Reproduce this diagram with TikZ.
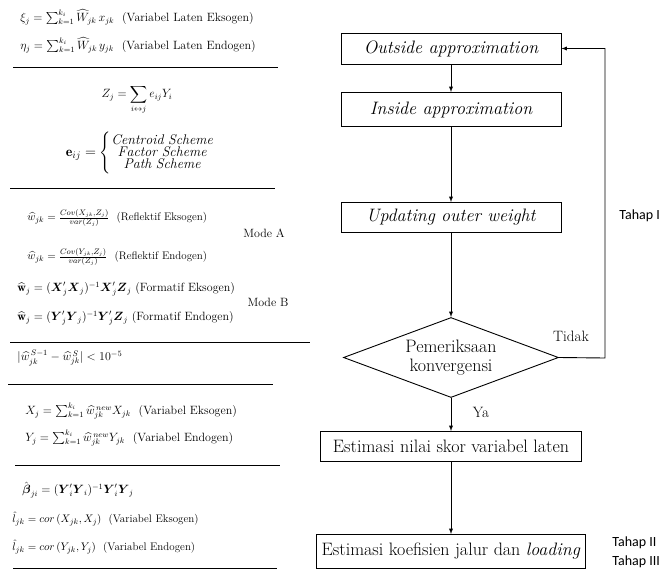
\documentclass[tikz,border=0pt]{standalone}
\usepackage{amsmath, amssymb}
\usepackage{fontspec}
\newfontfamily\tahapfont{Carlito}
\usetikzlibrary{positioning, shapes.geometric}

\tikzset{
  process/.style={draw, line width=0.9pt, minimum width=220pt, minimum height=31pt,
    inner sep=0pt, font=\fontsize{18}{20}\selectfont},
  decision/.style={draw, diamond, line width=0.9pt, aspect=2.69, minimum width=215pt,
    minimum height=80pt, inner sep=0pt, align=center, font=\fontsize{18}{19}\selectfont},
  eq/.style={anchor=west, inner sep=0pt, font=\fontsize{12}{14}\selectfont},
  smalleq/.style={eq, font=\fontsize{11}{13}\selectfont},
  tahap/.style={anchor=west, inner sep=0pt, font=\tahapfont\fontsize{14}{16}\selectfont},
  rule/.style={line width=0.9pt}
}

\begin{document}
\begin{tikzpicture}[x=1pt, y=-1pt, >=latex, node distance=60pt, on grid, line width=0.9pt]
   \useasboundingbox (0,0) rectangle (670,571);

   % Flowchart
   \node[process] (outside) at (451,48.5) {\itshape Outside approximation};
   \node[process, minimum height=34pt] (inside) [below=61pt of outside] {\itshape Inside approximation};
   \node[process, minimum height=30pt] (update) [below=108pt of inside] {\itshape Updating outer weight};
   \node[decision] (check) [below=140pt of update] {Pemeriksaan\\konvergensi};
   \node[process, minimum width=261pt, minimum height=30pt] (score) [below=89pt of check] {Estimasi nilai skor variabel laten};
   \node[process, minimum width=269pt, minimum height=34pt] (coef) [below=105pt of score] {Estimasi koefisien jalur dan \textit{loading}};
   \coordinate (back) at (605,358);

   \path[->]
        (outside) edge (inside)
        (inside) edge (update)
        (update) edge (check)
        (check) edge (score)
        (score) edge (coef);
   % Back to the start
   \draw[->] (check.east) -- (back) |- (outside.east);

   \node[font=\fontsize{15}{17}\selectfont] (tidak) at (571,336) {Tidak};
   \node[font=\fontsize{15}{17}\selectfont] (ya) at (481,412) {Ya};
   \node[tahap] (tahap1) at (619,216) {Tahap I};
   \node[tahap] (tahap2) at (612,543) {Tahap II};
   \node[tahap] (tahap3) at (612,562) {Tahap III};

   % Formulas
   \node[eq] (xi) at (20,17) {$\xi_j = \sum_{k=1}^{k_i} \widehat{W}_{jk}\, x_{jk}$\ \ (Variabel Laten Eksogen)};
   \node[eq] (eta) at (20,45) {$\eta_j = \sum_{k=1}^{k_i} \widehat{W}_{jk}\, y_{jk}$\ \ (Variabel Laten Endogen)};
   \draw[rule] (13,67) -- (278,67);

   \node[eq, anchor=center] (zsum) at (137,100) {$\displaystyle Z_j = \sum_{i\leftrightarrow j} e_{ij} Y_i$};
   \node[eq, anchor=center, font=\fontsize{14}{16}\selectfont] (escheme) at (140,153)
     {$\mathbf{e}_{ij} = \left\{\begin{array}{@{}c@{}}\mathit{Centroid\ Scheme}\\[-4pt] \mathit{Factor\ Scheme}\\[-4pt] \mathit{Path\ Scheme}\end{array}\right.$};
   \draw[rule] (10,188) -- (275,188);

   \node[smalleq] (wrefx) at (27,218) {$\widehat{w}_{jk} = \frac{Cov(X_{jk},Z_j)}{var(Z_j)}$\ \ (Reflektif Eksogen)};
   \node[smalleq] (wrefy) at (27,257) {$\widehat{w}_{jk} = \frac{Cov(Y_{jk},Z_j)}{var(Z_j)}$\ \ (Reflektif Endogen)};
   \node[eq, anchor=center] (modea) at (264,233) {Mode A};
   \node[eq] (wforx) at (17,289) {$\widehat{\mathbf{w}}_j = (\boldsymbol{X}_j'\boldsymbol{X}_j)^{-1}\boldsymbol{X}_j'\boldsymbol{Z}_j$ (Formatif Eksogen)};
   \node[eq] (wfory) at (17,318) {$\widehat{\mathbf{w}}_j = (\boldsymbol{Y}_j'\boldsymbol{Y}_j)^{-1}\boldsymbol{Y}_j'\boldsymbol{Z}_j$ (Formatif Endogen)};
   \node[eq, anchor=center] (modeb) at (268,302) {Mode B};
   \draw[rule] (10,342) -- (310,342);

   \node[eq] (conv) at (17,358) {$|\widehat{w}_{jk}^{\,S-1} - \widehat{w}_{jk}^{\,S}| < 10^{-5}$};
   \draw[rule] (8,384) -- (273,384);

   \node[eq] (xscore) at (25,411) {$X_j = \sum_{k=1}^{k_i} \widehat{w}_{jk}^{\,new} X_{jk}$\ \ (Variabel Eksogen)};
   \node[eq] (yscore) at (25,438) {$Y_j = \sum_{k=1}^{k_i} \widehat{w}_{jk}^{\,new} Y_{jk}$\ \ (Variabel Endogen)};
   \draw[rule] (15,465) -- (280,465);

   \node[eq] (beta) at (22,490) {$\hat{\boldsymbol{\beta}}_{ji} = (\boldsymbol{Y}_i'\boldsymbol{Y}_i)^{-1}\boldsymbol{Y}_i'\boldsymbol{Y}_j$};
   \node[smalleq] (lx) at (12,519) {$\hat{l}_{jk} = cor\,(X_{jk}, X_j)$\ \ (Variabel Eksogen)};
   \node[smalleq] (ly) at (12,547) {$\hat{l}_{jk} = cor\,(Y_{jk}, Y_j)$\ \ (Variabel Endogen)};
   \draw[rule] (13,568) -- (277,568);
\end{tikzpicture}
\end{document}
